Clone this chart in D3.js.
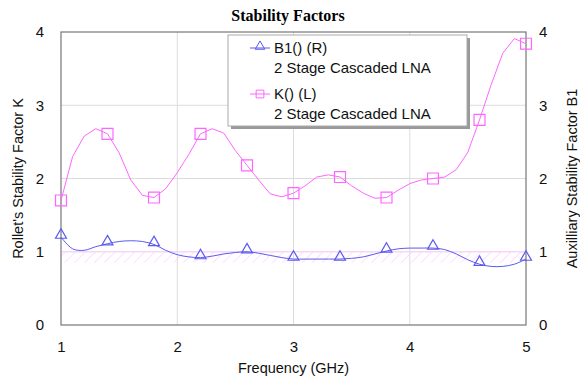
<!DOCTYPE html>
<meta charset="utf-8">
<style>
    body { margin: 0; background: #fff; }
    .tick text { font: 15px Arial, "Liberation Sans", sans-serif; fill: #111; }
    .lbl { font: 14.5px Arial, "Liberation Sans", sans-serif; fill: #111; }
    .legend text { font: 15px Arial, "Liberation Sans", sans-serif; fill: #111; }
</style>
<script src="https://d3js.org/d3.v7.min.js"></script>
<div id="chart"></div>
<script>
// frequency sampling (GHz)
var freq = [1.0,1.1,1.2,1.3,1.4,1.5,1.6,1.7,1.8,1.9,2.0,2.1,2.2,2.3,2.4,2.5,2.6,2.7,2.8,2.9,
            3.0,3.1,3.2,3.3,3.4,3.5,3.6,3.7,3.8,3.9,4.0,4.1,4.2,4.3,4.4,4.5,4.6,4.7,4.8,4.9,5.0];
// Rollet's K (left axis)
var kVals = [1.70,2.30,2.58,2.68,2.61,2.35,1.98,1.77,1.74,1.86,2.08,2.33,2.61,2.68,2.62,2.38,2.18,1.98,1.79,1.75,
             1.80,1.90,2.02,2.05,2.02,1.90,1.80,1.73,1.74,1.84,1.93,1.98,2.00,2.02,2.12,2.36,2.80,3.28,3.71,3.91,3.84];
// B1 (right axis)
var b1Vals = [1.20,1.04,1.02,1.07,1.11,1.14,1.15,1.14,1.10,1.02,0.96,0.93,0.92,0.94,0.97,0.99,1.00,0.98,0.95,0.92,
              0.90,0.90,0.90,0.90,0.90,0.91,0.93,0.97,1.01,1.04,1.05,1.05,1.05,1.03,0.97,0.89,0.83,0.80,0.80,0.83,0.90];
var xTicks = [1, 2, 3, 4, 5];
var yTicks = [0, 1, 2, 3, 4];
var band = [0.85, 1];
var legendItems = [["B1() (R)", "2 Stage Cascaded LNA"], ["K() (L)", "2 Stage Cascaded LNA"]];

var width = 580, height = 379;
var pLeft = 61, pRight = 526, pTop = 32, pBottom = 325;
var kColor = "#ff66ff", bColor = "#5a5af0";

var svg = d3.select("#chart").append("svg")
    .attr("width", width)
    .attr("height", height);

var x = d3.scaleLinear().domain([1, 5]).range([pLeft, pRight]);
var yL = d3.scaleLinear().domain([0, 4]).range([pBottom, pTop]);
var yR = d3.scaleLinear().domain([0, 4]).range([pBottom, pTop]);

var defs = svg.append("defs");
var pat = defs.append("pattern")
    .attr("id", "hatch")
    .attr("patternUnits", "userSpaceOnUse")
    .attr("width", 7).attr("height", 7)
    .attr("patternTransform", "rotate(45)");
pat.append("line")
    .attr("x1", 0).attr("y1", 0).attr("x2", 0).attr("y2", 7)
    .attr("stroke", "#ffc8ff").attr("stroke-width", 1.2);

// grid
svg.append("g").selectAll("line")
    .data(xTicks.slice(1, -1))
    .enter().append("line")
    .attr("x1", d => x(d)).attr("x2", d => x(d))
    .attr("y1", pTop).attr("y2", pBottom)
    .attr("stroke", "#dcdcdc");
svg.append("g").selectAll("line")
    .data(yTicks.slice(1, -1))
    .enter().append("line")
    .attr("x1", pLeft).attr("x2", pRight)
    .attr("y1", d => yL(d)).attr("y2", d => yL(d))
    .attr("stroke", "#dcdcdc");

// hatched band under 1
svg.append("rect")
    .attr("x", pLeft).attr("width", pRight - pLeft)
    .attr("y", yR(band[1])).attr("height", yR(band[0]) - yR(band[1]))
    .attr("fill", "url(#hatch)");
svg.append("line")
    .attr("x1", pLeft).attr("x2", pRight)
    .attr("y1", yR(band[1])).attr("y2", yR(band[1]))
    .attr("stroke", "#ffd0ff").attr("stroke-width", 1.2);

// frame
svg.append("rect")
    .attr("x", pLeft).attr("y", pTop)
    .attr("width", pRight - pLeft).attr("height", pBottom - pTop)
    .attr("fill", "none").attr("stroke", "#777").attr("stroke-width", 1.2);

// axes
var axL = svg.append("g").attr("transform", "translate(" + pLeft + ",0)")
    .call(d3.axisLeft(yL).tickValues(yTicks).tickFormat(d3.format("d")).tickSize(0).tickPadding(17));
var axR = svg.append("g").attr("transform", "translate(" + pRight + ",0)")
    .call(d3.axisRight(yR).tickValues(yTicks).tickFormat(d3.format("d")).tickSize(0).tickPadding(13));
var axB = svg.append("g").attr("transform", "translate(0," + pBottom + ")")
    .call(d3.axisBottom(x).tickValues(xTicks).tickFormat(d3.format("d")).tickSize(0).tickPadding(16));
[axL, axR, axB].forEach(function (a) { a.select(".domain").remove(); });

// lines
var pts = freq.map(function (f, i) { return { f: f, k: kVals[i], b: b1Vals[i], i: i }; });
svg.append("path")
    .datum(pts)
    .attr("fill", "none").attr("stroke", kColor).attr("stroke-width", 1)
    .attr("d", d3.line().x(d => x(d.f)).y(d => yL(d.k)));
svg.append("path")
    .datum(pts)
    .attr("fill", "none").attr("stroke", bColor).attr("stroke-width", 1)
    .attr("d", d3.line().curve(d3.curveCatmullRom).x(d => x(d.f)).y(d => yR(d.b)));

var marks = pts.filter(d => d.i % 4 === 0);
var sq = d3.symbol().type(d3.symbolSquare).size(120);
var tri = d3.symbol().type(d3.symbolTriangle).size(52);
svg.append("g").selectAll("path")
    .data(marks)
    .enter().append("path")
    .attr("d", sq)
    .attr("transform", d => "translate(" + x(d.f) + "," + yL(d.k) + ")")
    .attr("fill", "none").attr("stroke", kColor).attr("stroke-width", 1.2);
svg.append("g").selectAll("path")
    .data(marks)
    .enter().append("path")
    .attr("d", tri)
    .attr("transform", d => "translate(" + x(d.f) + "," + (yR(d.b) - 2) + ")")
    .attr("fill", "none").attr("stroke", bColor).attr("stroke-width", 1.2);

// title & axis labels
svg.append("text")
    .attr("x", 288).attr("y", 21)
    .attr("text-anchor", "middle")
    .style("font", "bold 16px 'Liberation Serif', 'Times New Roman', serif")
    .text("Stability Factors");
svg.append("text").attr("class", "lbl")
    .attr("x", (pLeft + pRight) / 2).attr("y", 373)
    .attr("text-anchor", "middle")
    .text("Frequency (GHz)");
svg.append("text").attr("class", "lbl")
    .attr("transform", "translate(23," + (pTop + pBottom) / 2 + ") rotate(-90)")
    .attr("text-anchor", "middle")
    .text("Rollet's Stability Factor K");
svg.append("text").attr("class", "lbl")
    .attr("transform", "translate(577," + (pTop + pBottom) / 2 + ") rotate(-90)")
    .attr("text-anchor", "middle")
    .text("Auxilliary Stability Factor B1");

// legend
var lg = svg.append("g").attr("class", "legend").attr("transform", "translate(228,35)");
lg.append("rect").attr("x", 3).attr("y", 3).attr("width", 239).attr("height", 91).attr("fill", "#999");
lg.append("rect").attr("width", 239).attr("height", 91).attr("fill", "#fff").attr("stroke", "#aaa");
var cols = [bColor, kColor];
legendItems.forEach(function (it, i) {
    var g = lg.append("g").attr("transform", "translate(0," + (i * 46) + ")");
    g.append("line").attr("x1", 22).attr("x2", 42).attr("y1", 13).attr("y2", 13).attr("stroke", cols[i]);
    g.append("path").attr("d", i === 0 ? d3.symbol().type(d3.symbolTriangle).size(40) : d3.symbol().type(d3.symbolSquare).size(60))
        .attr("transform", "translate(32," + (i === 0 ? 11.5 : 13) + ")")
        .attr("fill", "none").attr("stroke", cols[i]);
    g.append("text").attr("x", 46).attr("y", 18).text(it[0]);
    g.append("text").attr("x", 46).attr("y", 38).text(it[1]);
});
</script>
